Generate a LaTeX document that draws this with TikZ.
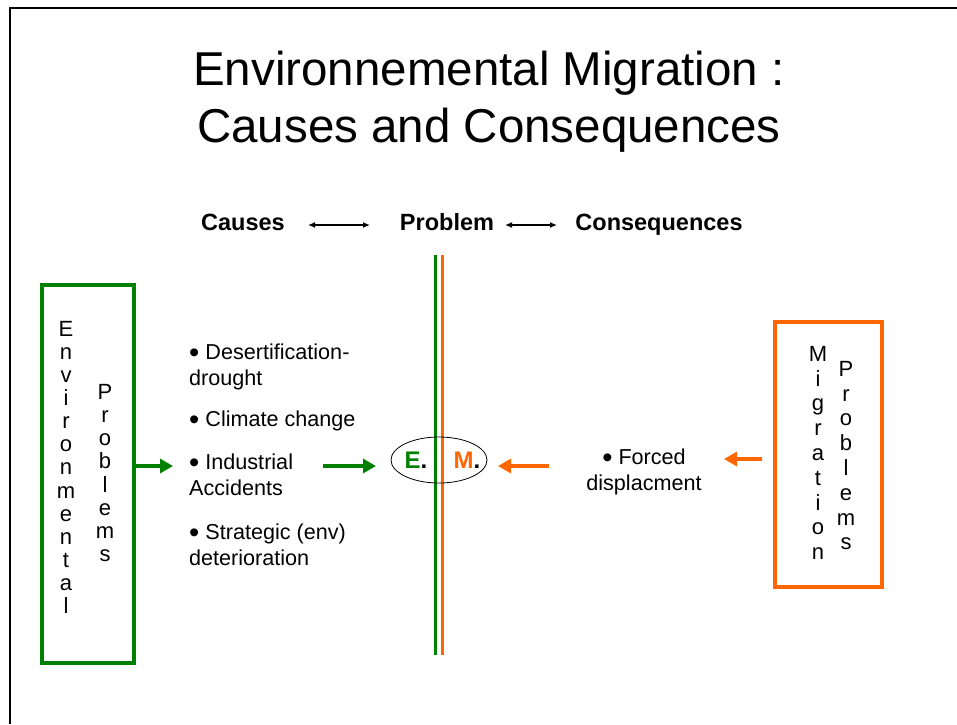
\documentclass[tikz,border=0pt]{standalone}
\usepackage{fontspec}
\setmainfont{Liberation Sans}
\usetikzlibrary{arrows.meta}
\definecolor{emgreen}{HTML}{008000}
\definecolor{emorange}{HTML}{FF6600}
\newcommand\bul{\raisebox{-0.12em}{\scalebox{1.35}{\textbullet}}}
\tikzset{
  txt/.style={inner sep=0pt, font=\fontsize{21.6}{26}\selectfont, align=left},
  hdr/.style={inner sep=0pt, anchor=base, font=\fontsize{23.5}{28}\bfseries\selectfont},
  vert/.style={inner sep=0pt, font=\fontsize{22}{23}\selectfont, align=center},
  garrow/.style={emgreen, line width=4pt, -{Triangle[length=13pt,width=14pt]}},
  oarrow/.style={emorange, line width=4pt, -{Triangle[length=13pt,width=14pt]}},
  dbl/.style={black, line width=1.3pt, {Latex[length=7pt,width=6pt]}-{Latex[length=7pt,width=6pt]}},
}
\begin{document}
\begin{tikzpicture}[x=1pt,y=-1pt]
\useasboundingbox (0,0) rectangle (957,724);
% frame
\draw[line width=1.5pt] (10,724) -- (10,8) -- (957,8);
% title
\node[inner sep=0pt, font=\fontsize{47.5}{57}\selectfont, align=center] (title) at (489,102) {Environnemental Migration :\\Causes and Consequences};
% headers
\node[hdr] (causes) at (243,230) {Causes};
\node[hdr] (problem) at (447,230) {Problem};
\node[hdr] (conseq) at (659,230) {Consequences};
\coordinate (d1a) at (308,225); \coordinate (d1b) at (370,225);
\coordinate (d2a) at (505,225); \coordinate (d2b) at (557,225);
\draw[dbl] (d1a) -- (d1b);
\draw[dbl] (d2a) -- (d2b);
% boxes
\node[draw=emgreen, line width=4pt, minimum width=92pt, minimum height=378pt, inner sep=0pt] (envbox) at (88,474) {};
\node[draw=emorange, line width=4pt, minimum width=107pt, minimum height=265pt, inner sep=0pt] (migbox) at (828.5,454.5) {};
% vertical text
\node[vert, font=\fontsize{22}{23.1}\selectfont, anchor=north] (envw) at (66,321) {E\\n\\v\\i\\r\\o\\n\\m\\e\\n\\t\\a\\l};
\node[vert, font=\fontsize{22}{23.2}\selectfont, anchor=north] (probw) at (105,384) {P\\r\\o\\b\\l\\e\\m\\s};
\node[vert, font=\fontsize{22}{24.8}\selectfont, anchor=north] (migw) at (818,346) {M\\i\\g\\r\\a\\t\\i\\o\\n};
\node[vert, font=\fontsize{22}{24.8}\selectfont, anchor=north] (probw2) at (846,361) {P\\r\\o\\b\\l\\e\\m\\s};
% vertical lines
\coordinate (gtop) at (435.5,255); \coordinate (gbot) at (435.5,655);
\coordinate (otop) at (442.5,255); \coordinate (obot) at (442.5,655);
\draw[emgreen, line width=3pt] (gtop) -- (gbot);
\draw[emorange, line width=3pt] (otop) -- (obot);
% ellipse
\draw[line width=0.8pt] (439,460) ellipse [x radius=48, y radius=23];
\node[inner sep=0pt, font=\fontsize{24}{28}\bfseries\selectfont, anchor=base] (E) at (416,468) {\textcolor{emgreen}{E}.};
\node[inner sep=0pt, font=\fontsize{24}{28}\bfseries\selectfont, anchor=base] (M) at (467,468) {\textcolor{emorange}{M}.};
% causes list
\node[txt, anchor=north west] (c1) at (189,344) {\bul\ Desertification-\\drought};
\node[txt, anchor=north west] (c2) at (189,411) {\bul\ Climate change};
\node[txt, anchor=north west] (c3) at (189,454) {\bul\ Industrial\\Accidents};
\node[txt, anchor=north west] (c4) at (189,524) {\bul\ Strategic (env)\\deterioration};
% consequence
\node[txt, align=center] (f) at (644,472) {\bul\ Forced\\displacment};
% arrows
\coordinate (ga1) at (134,466); \coordinate (ga2) at (173,466);
\coordinate (gb1) at (323,466); \coordinate (gb2) at (376,466);
\coordinate (oa1) at (549,466); \coordinate (oa2) at (498,466);
\coordinate (ob1) at (762,459); \coordinate (ob2) at (724,459);
\draw[garrow] (envbox.east |- ga1) -- (ga2);
\draw[garrow] (gb1) -- (gb2);
\draw[oarrow] (oa1) -- (oa2);
\draw[oarrow] (ob1) -- (ob2);
\end{tikzpicture}
\end{document}
